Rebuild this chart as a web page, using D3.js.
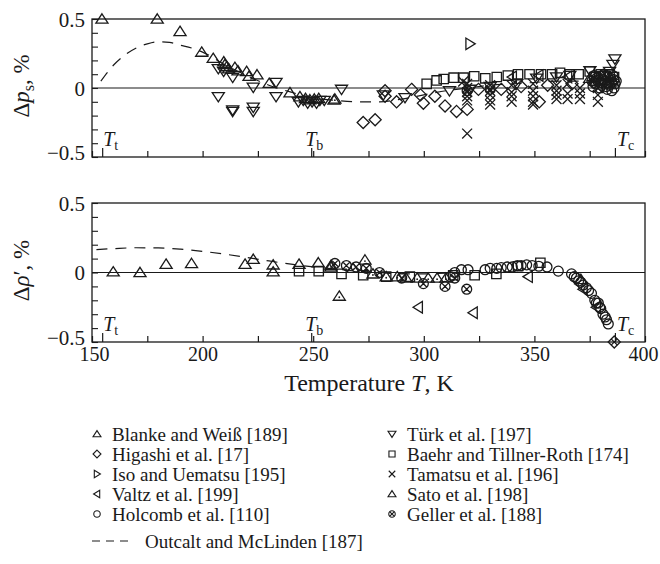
<!DOCTYPE html>
<html><head><meta charset="utf-8">
<script src="https://cdn.jsdelivr.net/npm/d3@7"></script>
<style>
body{margin:0;background:#fff}
svg{display:block}
</style>
</head><body>
<svg id="chart" width="660" height="564"></svg>
<script>
// ---- Saturated vapour pressure deviations, Δp_s (%) : [T (K), deviation] ----
const blankeTop = [[154.5,0.5],[179.5,0.5],[189.8,0.41],[199.6,0.26],[204.8,0.215],[209.6,0.19],[210.1,0.17],[210.9,0.155],[211.8,0.14],[214.6,0.15],[216,0.125],[219.9,0.12],[221,0.085],[224.6,0.096],[230.1,0.034],[239.5,-0.034],[244,-0.063],[246.5,-0.075],[248.5,-0.085],[250.5,-0.08],[252.5,-0.075],[259.4,-0.087]];
const turkTop = [[207.1,0.14],[209.5,0.12],[213.6,0.077],[207.1,-0.063],[213.6,-0.17],[213.6,-0.16],[222.9,-0.17],[222.9,-0.14],[222.9,0.005],[233.2,-0.063],[233.2,0.04],[243.3,-0.1],[245.5,-0.09],[247.5,-0.11],[249.5,-0.1],[251.5,-0.11],[253,-0.09],[255,-0.09],[262.8,-0.01],[281.7,-0.05],[291.5,-0.07],[311.6,-0.02],[321,-0.01],[330,0.01],[342,0.03],[351,0.07],[360,0.08],[366,0.09],[375.1,0.125],[380,0.09],[384,0.12],[385.5,0.17],[386.4,0.21]];
const higashiTop = [[272.6,-0.25],[278,-0.23],[282.5,-0.02],[282.5,-0.06],[287.7,-0.1],[294.5,-0.01],[298.5,-0.05],[299.8,-0.11],[305,-0.06],[309.6,-0.13],[314.8,-0.17],[319.6,-0.155],[324.7,-0.01],[335,-0.01],[344,0.01],[352.2,-0.1],[356,0.02],[367,0.03],[377,0.04]];
const isoTop = [[320.9,0.32]];
const valtzTop = [[340,0.08],[352,0.09],[365,0.08]];
const holcombTop = [[376,0.05],[376.5,0.01],[377.5,0.03],[378,0.07],[379,0.06],[379.5,0.0],[380.5,0.02],[381,0.06],[382,0.05],[382.5,0.01],[383,0.08],[383.5,0.04],[384,0.02],[384.5,0.07],[385,0.04],[385.5,0.09],[386,0.06],[386,0.0],[385,-0.02],[386.5,0.03],[377,0.09],[380,0.04],[381.5,0.1],[383,-0.01],[387,0.05]];
const baehrTop = [[301.3,0.03],[305.8,0.055],[309,0.065],[313.5,0.075],[318,0.075],[322.8,0.085],[327.8,0.07],[333,0.08],[338,0.09],[342.6,0.1],[347.8,0.1],[353,0.1],[358,0.1],[361.6,0.11],[366,0.1],[370,0.1],[375,0.12],[377,0.08],[380,0.1],[382,0.09],[384,0.1],[386,0.08]];
const tamatsuTop = [[317.8,0.047],[319.6,0.03],[319.6,0.0],[319.6,-0.03],[319.6,-0.06],[319.6,-0.09],[319.6,-0.33],
  [330,0.02],[330,-0.02],[330,-0.05],[330,-0.09],[330,-0.12],
  [339.7,0.02],[339.7,-0.03],[339.7,-0.06],[339.7,-0.1],
  [349.4,0.03],[349.4,-0.02],[349.4,-0.06],[349.4,-0.1],[349.4,-0.12],
  [360,0.02],[360,-0.02],[360,-0.05],[360,-0.08],
  [365,0.03],[365,-0.04],[365,-0.08],
  [370.6,0.0],[370.6,-0.04],[370.6,-0.08],
  [378.7,0.0],[378.7,-0.05],[378.7,-0.1]];
const satoTop = [[259.8,-0.08],[375,0.07],[378,0.05],[381,0.08],[383,0.03],[385,0.06]];
const gellerTop = [[319.6,-0.02],[330,-0.01]];

// ---- Saturated liquid density deviations, Δρ′ (%) ----
const blankeBot = [[159.6,0.005],[171.7,0.0],[183.5,0.06],[195,0.065],[219.2,0.06],[222.9,0.095],[231.9,0.055],[231.9,0.005],[243.6,0.06],[252.3,0.07],[258,0.05]];
const higashiBot = [[386.1,-0.5]];
const valtzBot = [[297.5,-0.25],[322.3,-0.29],[347.2,-0.03],[372,-0.12],[378,-0.25]];
const holcombBot = [[312,-0.03],[314,0.0],[317,0.02],[320,0.02],[327.7,0.02],[330,0.03],[333,0.03],[335,0.035],[337.7,0.04],[340,0.04],[342.3,0.05],[344,0.05],[346.5,0.055],[349,0.05],[352,0.045],[355.7,0.04],[360.8,0.01],[366.8,-0.01],[368,-0.03],[369,-0.04],[370,-0.06],[371,-0.07],[372,-0.09],[373.5,-0.11],[374.5,-0.13],[375.8,-0.15],[377.3,-0.2],[378,-0.22],[378.9,-0.22],[379.5,-0.25],[380,-0.26],[381,-0.3],[382,-0.32],[382.6,-0.34],[383.4,-0.37]];
const baehrBot = [[243.6,0.01],[252.5,0.01],[262.8,-0.01],[272.6,-0.02],[283,-0.03],[293.7,-0.03],[313.3,-0.02],[323,-0.02],[332.8,-0.01],[342.6,0.045],[352.7,0.07]];
const tamatsuBot = [[386.1,-0.5]];
const satoBot = [[261.8,-0.17],[273.4,0.09],[258,0.04],[268,0.03],[277,-0.01],[283,-0.03],[288,-0.03],[292,-0.04],[297,-0.04],[302,-0.04],[306,-0.04],[310,-0.04],[371,-0.05]];
const gellerBot = [[259.8,0.065],[265,0.05],[269.4,0.04],[274,0.03],[280,0.0],[290,-0.04],[299.8,-0.08],[309.6,-0.1],[314,-0.04],[319.4,-0.12]];

// ---- Outcalt and McLinden equation of state ----
const outcaltTopT = [154,160,165,170,175,180,185,190,195,200,210,220,230,240,250,260,270,280,290,300,310,320,330,340,350,360,370,380,386];
const outcaltTopV = [0.05,0.17,0.24,0.29,0.32,0.335,0.33,0.31,0.29,0.26,0.17,0.09,0.02,-0.03,-0.07,-0.09,-0.1,-0.1,-0.08,-0.05,-0.02,0.0,0.02,0.03,0.04,0.05,0.05,0.06,0.06];
const outcaltBotT = [152,160,170,180,190,200,210,220,230,240,250,260,270,280,290,300,310,320,330,340,350,360,370,380,386];
const outcaltBotV = [0.165,0.172,0.178,0.177,0.168,0.152,0.132,0.108,0.083,0.06,0.04,0.025,0.01,0.0,-0.01,-0.01,-0.005,0.0,0.0,0.0,0.0,0.0,0.0,0.0,0.0];

// ---- Axis ticks and characteristic temperatures ----
const xTicks = [150,175,200,225,250,275,300,325,350,375,400];
const xLabels = [150,200,250,300,350,400];
const yTicks = [-0.5,-0.4,-0.3,-0.2,-0.1,0,0.1,0.2,0.3,0.4,0.5];
const yLabels = [-0.5,0,0.5];
const charTemps = [{T:154.6,sub:"t",dx:1},{T:249.1,sub:"b",dx:-6},{T:386.4,sub:"c",dx:2}];

const legendLeft = [
  {sym:"up", name:"Blanke and Weiß [189]"},
  {sym:"diamond", name:"Higashi et al. [17]"},
  {sym:"right", name:"Iso and Uematsu [195]"},
  {sym:"left", name:"Valtz et al. [199]"},
  {sym:"circle", name:"Holcomb et al. [110]"}
];
const legendRight = [
  {sym:"down", name:"Türk et al. [197]"},
  {sym:"square", name:"Baehr and Tillner-Roth [174]"},
  {sym:"cross", name:"Tamatsu et al. [196]"},
  {sym:"sato", name:"Sato et al. [198]"},
  {sym:"geller", name:"Geller et al. [188]"}
];
const outcaltLabel = "Outcalt and McLinden [187]";

// ---------------------------------------------------------------
const FONT = "'Liberation Serif'";
const svg = d3.select("#chart");
const ink = "#1a1a1a";
const x = d3.scaleLinear().domain([150,400]).range([92,645]);

function txt(sel){ return sel.style("font-family", FONT).attr("fill", ink); }

// marker shapes as path strings, r = half-size
function shape(kind, r){
  const p = d3.path();
  switch(kind){
    case "up": case "sato":
      p.moveTo(0,-r*0.95); p.lineTo(r*1.1,r*0.75); p.lineTo(-r*1.1,r*0.75); p.closePath(); break;
    case "down":
      p.moveTo(0,r*0.95); p.lineTo(r*1.1,-r*0.75); p.lineTo(-r*1.1,-r*0.75); p.closePath(); break;
    case "left":
      p.moveTo(-r*0.95,0); p.lineTo(r*0.75,-r*1.05); p.lineTo(r*0.75,r*1.05); p.closePath(); break;
    case "right":
      p.moveTo(r*0.95,0); p.lineTo(-r*0.75,-r*1.05); p.lineTo(-r*0.75,r*1.05); p.closePath(); break;
    case "diamond":
      p.moveTo(0,-r*1.1); p.lineTo(r*1.1,0); p.lineTo(0,r*1.1); p.lineTo(-r*1.1,0); p.closePath(); break;
    case "square":
      p.rect(-r*0.85,-r*0.85,r*1.7,r*1.7); break;
    case "cross":
      p.moveTo(-r*0.9,-r*0.9); p.lineTo(r*0.9,r*0.9); p.moveTo(r*0.9,-r*0.9); p.lineTo(-r*0.9,r*0.9); break;
    case "circle": case "geller":
      p.moveTo(r*0.9,0); p.arc(0,0,r*0.9,0,Math.PI*2); break;
  }
  if(kind==="geller"){
    const k=r*0.6;
    p.moveTo(-k,-k); p.lineTo(k,k); p.moveTo(k,-k); p.lineTo(-k,k);
  }
  return p.toString();
}

function drawMarkers(g, y, data, kind, r){
  const sel = g.append("g").selectAll("g").data(data).join("g")
    .attr("transform", d=>`translate(${x(d[0])},${y(d[1])})`);
  sel.append("path").attr("d", shape(kind,r))
    .attr("fill","none").attr("stroke",ink).attr("stroke-width",1.3);
  if(kind==="sato"){
    sel.append("circle").attr("cy",r*0.2).attr("r",0.9).attr("fill",ink);
  }
}

function panel(top, bottom, drawContent, curveT, curveV, titleParts){
  const y = d3.scaleLinear().domain([-0.5,0.5]).range([bottom, top]);
  const g = svg.append("g");
  const L = x.range()[0], R = x.range()[1];

  // frame
  g.append("rect").attr("x",L).attr("y",top).attr("width",R-L).attr("height",bottom-top)
    .attr("fill","none").attr("stroke",ink).attr("stroke-width",1.3);
  // zero line
  g.append("line").attr("x1",L).attr("x2",R).attr("y1",y(0)).attr("y2",y(0))
    .attr("stroke",ink).attr("stroke-width",1.1);

  // bottom axis ticks (inward)
  const xa = g.append("g").attr("transform",`translate(0,${bottom})`)
    .call(d3.axisBottom(x).tickValues(xTicks).tickSize(-6).tickFormat(""));
  xa.select(".domain").remove();
  xa.selectAll("line").attr("stroke",ink).attr("stroke-width",1.2);
  const xc = g.append("g").attr("transform",`translate(0,${bottom})`)
    .call(d3.axisBottom(x).tickValues(charTemps.map(d=>d.T)).tickSize(-9).tickFormat(""));
  xc.select(".domain").remove();
  xc.selectAll("line").attr("stroke",ink).attr("stroke-width",1.2);

  // left axis ticks (inward)
  const ya = g.append("g").attr("transform",`translate(${L},0)`)
    .call(d3.axisLeft(y).tickValues(yTicks).tickSize(-6).tickFormat(""));
  ya.select(".domain").remove();
  ya.selectAll("line").attr("stroke",ink).attr("stroke-width",1.1);
  const yl = g.append("g").attr("transform",`translate(${L-4},0)`)
    .call(d3.axisLeft(y).tickValues(yLabels).tickSize(0)
      .tickFormat(v=> v<0 ? "\u2212"+Math.abs(v) : String(v)));
  yl.select(".domain").remove();
  txt(yl.selectAll("text")).attr("font-size",21).attr("dy",v=> v<0 ? "0.12em" : "0.34em");

  // characteristic temperature labels
  charTemps.forEach(c=>{
    const t = txt(g.append("text")).attr("x", x(c.T)+c.dx).attr("y", bottom-11)
      .attr("font-size",20);
    t.append("tspan").attr("font-style","italic").text("T");
    t.append("tspan").attr("font-size",14).attr("dy",4).text(c.sub);
  });

  // equation of state curve
  const pts = curveT.map((t,i)=>[t,curveV[i]]);
  g.append("path").datum(pts)
    .attr("d", d3.line().x(d=>x(d[0])).y(d=>y(d[1])).curve(d3.curveMonotoneX))
    .attr("fill","none").attr("stroke",ink).attr("stroke-width",1.2).attr("stroke-dasharray","11,8");

  drawContent(g, y);

  // y title
  const tt = txt(g.append("text")).attr("transform",`translate(29,${(top+bottom)/2 - 2}) rotate(-90)`)
    .attr("text-anchor","middle").attr("font-size",23);
  titleParts(tt);
  return y;
}

panel(19, 157, (g,y)=>{
  drawMarkers(g,y,higashiTop,"diamond",5.5);
  drawMarkers(g,y,baehrTop,"square",5.5);
  drawMarkers(g,y,tamatsuTop,"cross",5.5);
  drawMarkers(g,y,valtzTop,"left",5.5);
  drawMarkers(g,y,holcombTop,"circle",5.5);
  drawMarkers(g,y,gellerTop,"geller",5.5);
  drawMarkers(g,y,isoTop,"right",5.5);
  drawMarkers(g,y,blankeTop,"up",5.5);
  drawMarkers(g,y,satoTop,"sato",5.5);
  drawMarkers(g,y,turkTop,"down",5.5);
}, outcaltTopT, outcaltTopV, t=>{
  t.append("tspan").text("Δ");
  t.append("tspan").attr("font-style","italic").text("p");
  t.append("tspan").attr("font-size",16).attr("dy",5).text("s");
  t.append("tspan").attr("dy",-5).text(", %");
});

panel(203, 342, (g,y)=>{
  drawMarkers(g,y,baehrBot,"square",5.5);
  drawMarkers(g,y,blankeBot,"up",5.5);
  drawMarkers(g,y,satoBot,"sato",5.5);
  drawMarkers(g,y,gellerBot,"geller",5.5);
  drawMarkers(g,y,holcombBot,"circle",5.5);
  drawMarkers(g,y,valtzBot,"left",5.5);
  drawMarkers(g,y,higashiBot,"diamond",5.5);
  drawMarkers(g,y,tamatsuBot,"cross",3.5);
}, outcaltBotT, outcaltBotV, t=>{
  t.append("tspan").text("Δ");
  t.append("tspan").attr("font-style","italic").text("ρ");
  t.append("tspan").text("′, %");
});

// x tick labels on the lower panel
const xl = svg.append("g").attr("transform","translate(0,342)")
  .call(d3.axisBottom(x).tickValues(xLabels).tickSize(0).tickPadding(5).tickFormat(d3.format("d")));
xl.select(".domain").remove();
txt(xl.selectAll("text")).attr("font-size",20)
  .attr("dx", v=> v===400 ? "-2" : v===150 ? "2" : "0");

// x title
const xt = txt(svg.append("text")).attr("x",369).attr("y",391).attr("text-anchor","middle").attr("font-size",24);
xt.append("tspan").text("Temperature ");
xt.append("tspan").attr("font-style","italic").text("T");
xt.append("tspan").text(", K");

// legend
function legendCol(items, sx, tx){
  items.forEach((d,i)=>{
    const cy = 434 + i*20;
    const gg = svg.append("g").attr("transform",`translate(${sx},${cy})`);
    gg.append("path").attr("d",shape(d.sym==="sato"?"up":d.sym,3.6)).attr("fill","none").attr("stroke",ink).attr("stroke-width",1.1);
    txt(svg.append("text")).attr("x",tx).attr("y",cy).attr("dy","0.35em").attr("font-size",19).text(d.name);
  });
}
legendCol(legendLeft, 97, 112);
legendCol(legendRight, 392, 407);
svg.append("line").attr("x1",92).attr("x2",134).attr("y1",541).attr("y2",541)
  .attr("stroke",ink).attr("stroke-width",1.2).attr("stroke-dasharray","8,6");
txt(svg.append("text")).attr("x",145).attr("y",541).attr("dy","0.35em").attr("font-size",19).text(outcaltLabel);
</script>
</body></html>
